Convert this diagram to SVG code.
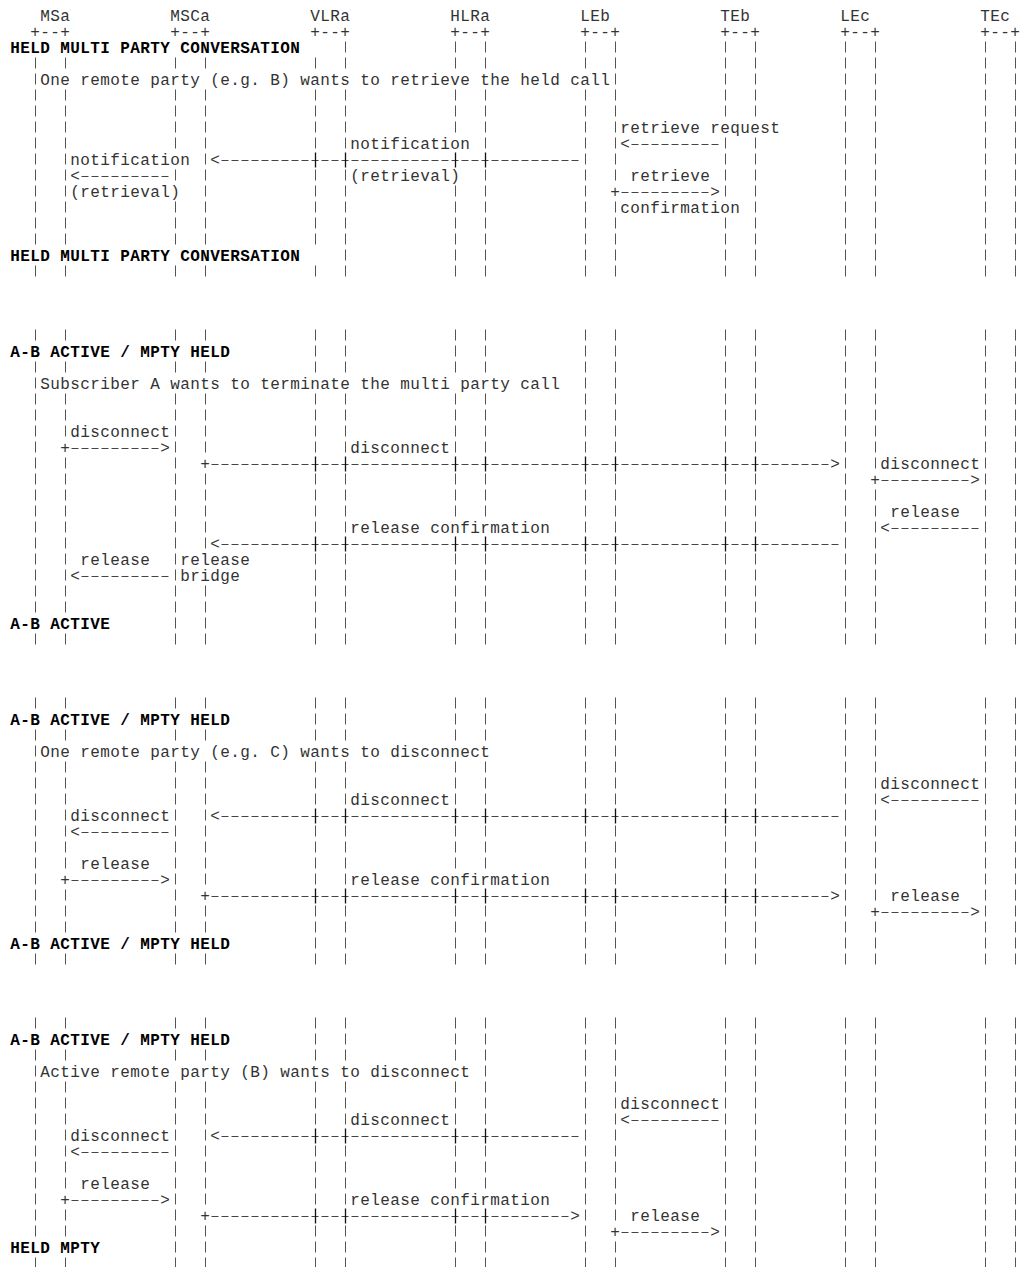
<svg xmlns="http://www.w3.org/2000/svg" width="1020" height="1267" viewBox="0 0 1020 1267">
<style>
.t{font-family:"Liberation Mono","Courier New",monospace;font-size:16px;letter-spacing:0.4px;fill:#333;}
.b{font-weight:bold;fill:#000;}
.ll line{stroke:#555;stroke-width:1;stroke-dasharray:11 5;}
.m rect{fill:#fff;}
.c line{stroke:#444;stroke-width:1;stroke-dasharray:7 3;}
.x{stroke:#111;stroke-width:1.3;fill:none;}
</style>
<rect width="1020" height="1267" fill="#fff"/>
<g id="lifelines" class="ll">
<g id="ll-sec1">
<line x1="35.5" y1="41.5" x2="35.5" y2="276.5"/><line x1="65.5" y1="41.5" x2="65.5" y2="276.5"/>
<line x1="175.5" y1="41.5" x2="175.5" y2="276.5"/><line x1="205.5" y1="41.5" x2="205.5" y2="276.5"/>
<line x1="315.5" y1="41.5" x2="315.5" y2="276.5"/><line x1="345.5" y1="41.5" x2="345.5" y2="276.5"/>
<line x1="455.5" y1="41.5" x2="455.5" y2="276.5"/><line x1="485.5" y1="41.5" x2="485.5" y2="276.5"/>
<line x1="585.5" y1="41.5" x2="585.5" y2="276.5"/><line x1="615.5" y1="41.5" x2="615.5" y2="276.5"/>
<line x1="725.5" y1="41.5" x2="725.5" y2="276.5"/><line x1="755.5" y1="41.5" x2="755.5" y2="276.5"/>
<line x1="845.5" y1="41.5" x2="845.5" y2="276.5"/><line x1="875.5" y1="41.5" x2="875.5" y2="276.5"/>
<line x1="985.5" y1="41.5" x2="985.5" y2="276.5"/><line x1="1015.5" y1="41.5" x2="1015.5" y2="276.5"/>
</g>
<g id="ll-sec2">
<line x1="35.5" y1="329.5" x2="35.5" y2="644.5"/><line x1="65.5" y1="329.5" x2="65.5" y2="644.5"/>
<line x1="175.5" y1="329.5" x2="175.5" y2="644.5"/><line x1="205.5" y1="329.5" x2="205.5" y2="644.5"/>
<line x1="315.5" y1="329.5" x2="315.5" y2="644.5"/><line x1="345.5" y1="329.5" x2="345.5" y2="644.5"/>
<line x1="455.5" y1="329.5" x2="455.5" y2="644.5"/><line x1="485.5" y1="329.5" x2="485.5" y2="644.5"/>
<line x1="585.5" y1="329.5" x2="585.5" y2="644.5"/><line x1="615.5" y1="329.5" x2="615.5" y2="644.5"/>
<line x1="725.5" y1="329.5" x2="725.5" y2="644.5"/><line x1="755.5" y1="329.5" x2="755.5" y2="644.5"/>
<line x1="845.5" y1="329.5" x2="845.5" y2="644.5"/><line x1="875.5" y1="329.5" x2="875.5" y2="644.5"/>
<line x1="985.5" y1="329.5" x2="985.5" y2="644.5"/><line x1="1015.5" y1="329.5" x2="1015.5" y2="644.5"/>
</g>
<g id="ll-sec3">
<line x1="35.5" y1="697.5" x2="35.5" y2="964.5"/><line x1="65.5" y1="697.5" x2="65.5" y2="964.5"/>
<line x1="175.5" y1="697.5" x2="175.5" y2="964.5"/><line x1="205.5" y1="697.5" x2="205.5" y2="964.5"/>
<line x1="315.5" y1="697.5" x2="315.5" y2="964.5"/><line x1="345.5" y1="697.5" x2="345.5" y2="964.5"/>
<line x1="455.5" y1="697.5" x2="455.5" y2="964.5"/><line x1="485.5" y1="697.5" x2="485.5" y2="964.5"/>
<line x1="585.5" y1="697.5" x2="585.5" y2="964.5"/><line x1="615.5" y1="697.5" x2="615.5" y2="964.5"/>
<line x1="725.5" y1="697.5" x2="725.5" y2="964.5"/><line x1="755.5" y1="697.5" x2="755.5" y2="964.5"/>
<line x1="845.5" y1="697.5" x2="845.5" y2="964.5"/><line x1="875.5" y1="697.5" x2="875.5" y2="964.5"/>
<line x1="985.5" y1="697.5" x2="985.5" y2="964.5"/><line x1="1015.5" y1="697.5" x2="1015.5" y2="964.5"/>
</g>
<g id="ll-sec4">
<line x1="35.5" y1="1017.5" x2="35.5" y2="1268.5"/><line x1="65.5" y1="1017.5" x2="65.5" y2="1268.5"/>
<line x1="175.5" y1="1017.5" x2="175.5" y2="1268.5"/><line x1="205.5" y1="1017.5" x2="205.5" y2="1268.5"/>
<line x1="315.5" y1="1017.5" x2="315.5" y2="1268.5"/><line x1="345.5" y1="1017.5" x2="345.5" y2="1268.5"/>
<line x1="455.5" y1="1017.5" x2="455.5" y2="1268.5"/><line x1="485.5" y1="1017.5" x2="485.5" y2="1268.5"/>
<line x1="585.5" y1="1017.5" x2="585.5" y2="1268.5"/><line x1="615.5" y1="1017.5" x2="615.5" y2="1268.5"/>
<line x1="725.5" y1="1017.5" x2="725.5" y2="1268.5"/><line x1="755.5" y1="1017.5" x2="755.5" y2="1268.5"/>
<line x1="845.5" y1="1017.5" x2="845.5" y2="1268.5"/><line x1="875.5" y1="1017.5" x2="875.5" y2="1268.5"/>
<line x1="985.5" y1="1017.5" x2="985.5" y2="1268.5"/><line x1="1015.5" y1="1017.5" x2="1015.5" y2="1268.5"/>
</g>
</g>
<g id="masks" class="m">
<rect x="10" y="40" width="310" height="16"/>
<rect x="10" y="248" width="310" height="16"/>
<rect x="40" y="72" width="570" height="16"/>
<rect x="620" y="120" width="160" height="16"/>
<rect x="350" y="136" width="120" height="16"/>
<rect x="70" y="152" width="120" height="16"/>
<rect x="350" y="168" width="110" height="16"/>
<rect x="70" y="184" width="110" height="16"/>
<rect x="610" y="184" width="10" height="16"/>
<rect x="620" y="200" width="120" height="16"/>
<rect x="10" y="344" width="220" height="16"/>
<rect x="40" y="376" width="520" height="16"/>
<rect x="60" y="440" width="10" height="16"/>
<rect x="200" y="456" width="10" height="16"/>
<rect x="870" y="472" width="10" height="16"/>
<rect x="350" y="520" width="200" height="16"/>
<rect x="180" y="552" width="70" height="16"/>
<rect x="180" y="568" width="60" height="16"/>
<rect x="10" y="616" width="100" height="16"/>
<rect x="10" y="712" width="220" height="16"/>
<rect x="40" y="744" width="450" height="16"/>
<rect x="60" y="872" width="10" height="16"/>
<rect x="350" y="872" width="200" height="16"/>
<rect x="200" y="888" width="10" height="16"/>
<rect x="870" y="904" width="10" height="16"/>
<rect x="10" y="936" width="220" height="16"/>
<rect x="10" y="1032" width="220" height="16"/>
<rect x="40" y="1064" width="430" height="16"/>
<rect x="60" y="1192" width="10" height="16"/>
<rect x="350" y="1192" width="200" height="16"/>
<rect x="200" y="1208" width="10" height="16"/>
<rect x="610" y="1224" width="10" height="16"/>
<rect x="10" y="1240" width="90" height="16"/>
</g>
<g id="nodes" class="t">
<g id="node-MSa"><text x="40.2" y="21">MSa</text><text x="30.2" y="37">+--+</text></g>
<g id="node-MSCa"><text x="170.2" y="21">MSCa</text><text x="170.2" y="37">+--+</text></g>
<g id="node-VLRa"><text x="310.2" y="21">VLRa</text><text x="310.2" y="37">+--+</text></g>
<g id="node-HLRa"><text x="450.2" y="21">HLRa</text><text x="450.2" y="37">+--+</text></g>
<g id="node-LEb"><text x="580.2" y="21">LEb</text><text x="580.2" y="37">+--+</text></g>
<g id="node-TEb"><text x="720.2" y="21">TEb</text><text x="720.2" y="37">+--+</text></g>
<g id="node-LEc"><text x="840.2" y="21">LEc</text><text x="840.2" y="37">+--+</text></g>
<g id="node-TEc"><text x="980.2" y="21">TEc</text><text x="980.2" y="37">+--+</text></g>
</g>
<g id="titles" class="t b">
<text x="10.2" y="53">HELD MULTI PARTY CONVERSATION</text>
<text x="10.2" y="261">HELD MULTI PARTY CONVERSATION</text>
<text x="10.2" y="357">A-B ACTIVE / MPTY HELD</text>
<text x="10.2" y="629">A-B ACTIVE</text>
<text x="10.2" y="725">A-B ACTIVE / MPTY HELD</text>
<text x="10.2" y="949">A-B ACTIVE / MPTY HELD</text>
<text x="10.2" y="1045">A-B ACTIVE / MPTY HELD</text>
<text x="10.2" y="1253">HELD MPTY</text>
</g>
<g id="connectors">
<g class="c">
<line x1="631.5" y1="144.5" x2="718.5" y2="144.5"/>
<line x1="221.5" y1="160.5" x2="578.5" y2="160.5"/>
<line x1="81.5" y1="176.5" x2="168.5" y2="176.5"/>
<line x1="621.5" y1="192.5" x2="708.5" y2="192.5"/>
<line x1="71.5" y1="448.5" x2="158.5" y2="448.5"/>
<line x1="211.5" y1="464.5" x2="828.5" y2="464.5"/>
<line x1="881.5" y1="480.5" x2="968.5" y2="480.5"/>
<line x1="891.5" y1="528.5" x2="978.5" y2="528.5"/>
<line x1="221.5" y1="544.5" x2="838.5" y2="544.5"/>
<line x1="81.5" y1="576.5" x2="168.5" y2="576.5"/>
<line x1="891.5" y1="800.5" x2="978.5" y2="800.5"/>
<line x1="221.5" y1="816.5" x2="838.5" y2="816.5"/>
<line x1="81.5" y1="832.5" x2="168.5" y2="832.5"/>
<line x1="71.5" y1="880.5" x2="158.5" y2="880.5"/>
<line x1="211.5" y1="896.5" x2="828.5" y2="896.5"/>
<line x1="881.5" y1="912.5" x2="968.5" y2="912.5"/>
<line x1="631.5" y1="1120.5" x2="718.5" y2="1120.5"/>
<line x1="221.5" y1="1136.5" x2="578.5" y2="1136.5"/>
<line x1="81.5" y1="1152.5" x2="168.5" y2="1152.5"/>
<line x1="71.5" y1="1200.5" x2="158.5" y2="1200.5"/>
<line x1="211.5" y1="1216.5" x2="568.5" y2="1216.5"/>
<line x1="621.5" y1="1232.5" x2="708.5" y2="1232.5"/>
</g>
<path class="x" d="M315.5 152.5v15M345.5 152.5v15M455.5 152.5v15M485.5 152.5v15
M315.5 456.5v15M345.5 456.5v15M455.5 456.5v15M485.5 456.5v15M585.5 456.5v15M615.5 456.5v15M725.5 456.5v15M755.5 456.5v15
M315.5 536.5v15M345.5 536.5v15M455.5 536.5v15M485.5 536.5v15M585.5 536.5v15M615.5 536.5v15M725.5 536.5v15M755.5 536.5v15
M315.5 808.5v15M345.5 808.5v15M455.5 808.5v15M485.5 808.5v15M585.5 808.5v15M615.5 808.5v15M725.5 808.5v15M755.5 808.5v15
M315.5 888.5v15M345.5 888.5v15M455.5 888.5v15M485.5 888.5v15M585.5 888.5v15M615.5 888.5v15M725.5 888.5v15M755.5 888.5v15
M315.5 1128.5v15M345.5 1128.5v15M455.5 1128.5v15M485.5 1128.5v15
M315.5 1208.5v15M345.5 1208.5v15M455.5 1208.5v15M485.5 1208.5v15"/>
<g class="t">
<text x="620.2" y="149">&lt;</text>
<text x="210.2" y="165">&lt;</text>
<text x="70.2" y="181">&lt;</text>
<text x="610.2" y="197">+</text><text x="710.2" y="197">&gt;</text>
<text x="60.2" y="453">+</text><text x="160.2" y="453">&gt;</text>
<text x="200.2" y="469">+</text><text x="830.2" y="469">&gt;</text>
<text x="870.2" y="485">+</text><text x="970.2" y="485">&gt;</text>
<text x="880.2" y="533">&lt;</text>
<text x="210.2" y="549">&lt;</text>
<text x="70.2" y="581">&lt;</text>
<text x="880.2" y="805">&lt;</text>
<text x="210.2" y="821">&lt;</text>
<text x="70.2" y="837">&lt;</text>
<text x="60.2" y="885">+</text><text x="160.2" y="885">&gt;</text>
<text x="200.2" y="901">+</text><text x="830.2" y="901">&gt;</text>
<text x="870.2" y="917">+</text><text x="970.2" y="917">&gt;</text>
<text x="620.2" y="1125">&lt;</text>
<text x="210.2" y="1141">&lt;</text>
<text x="70.2" y="1157">&lt;</text>
<text x="60.2" y="1205">+</text><text x="160.2" y="1205">&gt;</text>
<text x="200.2" y="1221">+</text><text x="570.2" y="1221">&gt;</text>
<text x="610.2" y="1237">+</text><text x="710.2" y="1237">&gt;</text>
</g>
</g>
<g id="labels" class="t">
<text x="40.2" y="85">One remote party (e.g. B) wants to retrieve the held call</text>
<text x="620.2" y="133">retrieve request</text>
<text x="350.2" y="149">notification</text>
<text x="70.2" y="165">notification</text>
<text x="350.2" y="181">(retrieval)</text>
<text x="630.2" y="181">retrieve</text>
<text x="70.2" y="197">(retrieval)</text>
<text x="620.2" y="213">confirmation</text>
<text x="40.2" y="389">Subscriber A wants to terminate the multi party call</text>
<text x="70.2" y="437">disconnect</text>
<text x="350.2" y="453">disconnect</text>
<text x="880.2" y="469">disconnect</text>
<text x="890.2" y="517">release</text>
<text x="350.2" y="533">release confirmation</text>
<text x="80.2" y="565">release</text>
<text x="180.2" y="565">release</text>
<text x="180.2" y="581">bridge</text>
<text x="40.2" y="757">One remote party (e.g. C) wants to disconnect</text>
<text x="880.2" y="789">disconnect</text>
<text x="350.2" y="805">disconnect</text>
<text x="70.2" y="821">disconnect</text>
<text x="80.2" y="869">release</text>
<text x="350.2" y="885">release confirmation</text>
<text x="890.2" y="901">release</text>
<text x="40.2" y="1077">Active remote party (B) wants to disconnect</text>
<text x="620.2" y="1109">disconnect</text>
<text x="350.2" y="1125">disconnect</text>
<text x="70.2" y="1141">disconnect</text>
<text x="80.2" y="1189">release</text>
<text x="350.2" y="1205">release confirmation</text>
<text x="630.2" y="1221">release</text>
</g>
</svg>
